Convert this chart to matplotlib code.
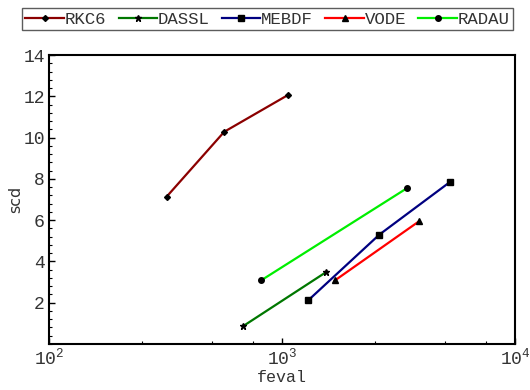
import matplotlib
matplotlib.use("Agg")
import matplotlib.pyplot as plt
from matplotlib.ticker import FixedLocator, AutoMinorLocator, NullFormatter, FixedFormatter

rkc6_x = [320, 565, 1064]
rkc6_y = [7.14, 10.28, 12.07]
dassl_x = [682, 1545]
dassl_y = [0.87, 3.48]
mebdf_x = [1297, 2618, 5262]
mebdf_y = [2.12, 5.30, 7.85]
vode_x = [1687, 3881]
vode_y = [3.08, 5.95]
radau_x = [813, 3452]
radau_y = [3.08, 7.56]

labels = ["RKC6", "DASSL", "MEBDF", "VODE", "RADAU"]
y_ticks = [2, 4, 6, 8, 10, 12, 14]
x_ticks = [100, 1000, 10000]
x_tick_labels = ["$\\mathregular{10^2}$", "$\\mathregular{10^3}$", "$\\mathregular{10^4}$"]

mono = "Liberation Mono"
plt.rcParams["mathtext.fontset"] = "custom"
plt.rcParams["mathtext.rm"] = mono

fig = plt.figure(figsize=(5.30, 3.90), dpi=100)
ax = fig.add_axes([49/530, 1-344/390, (515-49)/530, (344-55)/390])

ax.plot(rkc6_x, rkc6_y, color="#8b0000", lw=1.6, marker="D", ms=3, mfc="black", mec="black", label=labels[0])
ax.plot(dassl_x, dassl_y, color="#007700", lw=1.6, marker="*", ms=5, mfc="black", mec="black", label=labels[1])
ax.plot(mebdf_x, mebdf_y, color="#000080", lw=1.6, marker="s", ms=5, mfc="black", mec="black", label=labels[2])
ax.plot(vode_x, vode_y, color="#ff0000", lw=1.6, marker="^", ms=4, mfc="black", mec="black", label=labels[3])
ax.plot(radau_x, radau_y, color="#00ee00", lw=1.6, marker="o", ms=4, mfc="black", mec="black", label=labels[4])

ax.set_xscale("log")
ax.set_xlim(100, 10000)
ax.set_ylim(0, 14)

ax.xaxis.set_major_locator(FixedLocator(x_ticks))
ax.xaxis.set_major_formatter(FixedFormatter(x_tick_labels))
ax.xaxis.set_minor_locator(FixedLocator([250, 500, 750, 2500, 5000, 7500]))
ax.xaxis.set_minor_formatter(NullFormatter())
ax.yaxis.set_major_locator(FixedLocator(y_ticks))
ax.yaxis.set_minor_locator(AutoMinorLocator(5))

ax.tick_params(which="both", direction="in", top=False, right=False, labelcolor="#333333")
ax.tick_params(which="major", length=4, width=1, color="black", pad=3)
ax.tick_params(which="minor", length=2, width=0.8, color="black")
for lbl in ax.get_xticklabels() + ax.get_yticklabels():
    lbl.set_fontfamily(mono)
    lbl.set_fontsize(13)

for s in ax.spines.values():
    s.set_linewidth(1.5)
    s.set_color("black")

ax.set_xlabel("feval", fontfamily=mono, fontsize=12, color="#333333", labelpad=1)
ax.set_ylabel("scd", fontfamily="DejaVu Sans", fontsize=11.5, color="#333333", labelpad=0)

leg = fig.legend(loc="upper left", bbox_to_anchor=(22/530, 1-8/390), ncol=5, frameon=True,
                 fancybox=False, edgecolor="#333333", prop={"family": mono, "size": 12.5},
                 handlelength=2.2, handletextpad=0.05, columnspacing=0.72, borderpad=0.2,
                 borderaxespad=0)
leg.get_frame().set_linewidth(1.0)
for t in leg.get_texts():
    t.set_color("#333333")

fig.savefig("out.png", dpi=100)
